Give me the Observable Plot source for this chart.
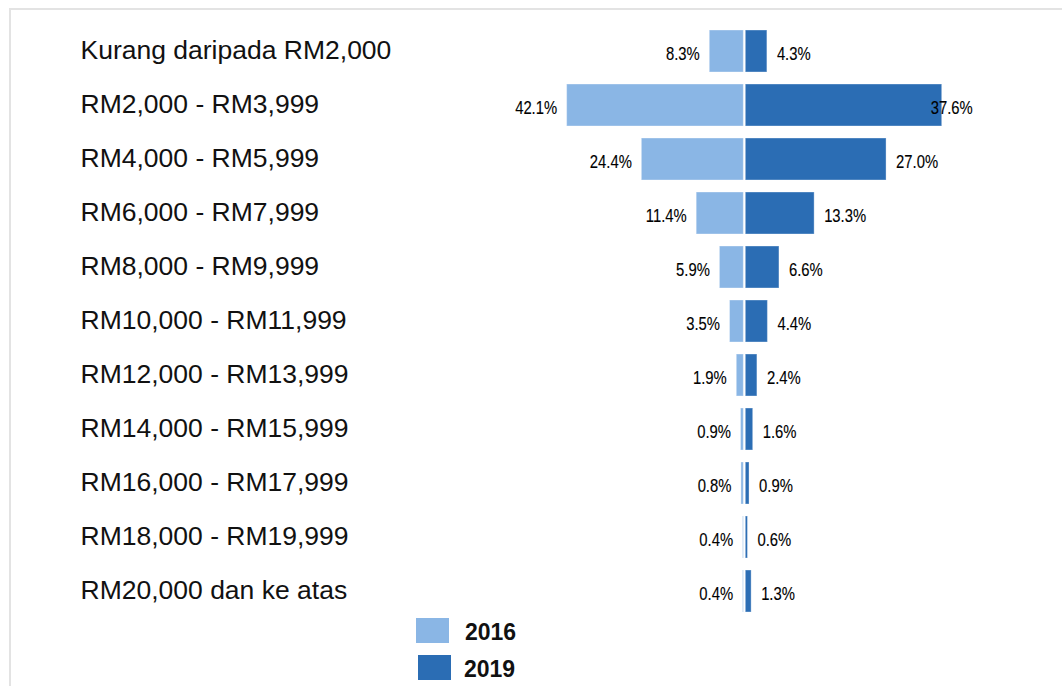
<!DOCTYPE html>
<html>
<head>
<meta charset="utf-8">
<script src="https://cdn.jsdelivr.net/npm/d3@7"></script>
<script src="https://cdn.jsdelivr.net/npm/@observablehq/plot@0.6"></script>
<style>
  html, body { margin: 0; padding: 0; background: #fff; overflow: hidden; }
  body { width: 1062px; height: 686px; position: relative; font-family: "Liberation Sans", Arial, sans-serif; }
  #frame { position: absolute; left: 9px; top: 8px; width: 1100px; height: 720px;
           border-left: 2px solid #e3e3e3; border-top: 2px solid #e3e3e3; box-sizing: border-box; }
  .layer { position: absolute; left: 0; top: 0; }
  .sw { position: absolute; width: 33px; height: 25px; }
  .lg { position: absolute; font-weight: bold; font-size: 23px; line-height: 23px; color: #111; }
</style>
</head>
<body>
<div id="frame"></div>
<div class="layer" id="left"></div>
<div class="layer" id="right"></div>
<div class="sw" id="sw0" style="left:416px; top:618px;"></div>
<div class="lg" id="lg0" style="left:465px; top:621px;"></div>
<div class="sw" id="sw1" style="left:418px; top:655px;"></div>
<div class="lg" id="lg1" style="left:464px; top:658px;"></div>
<script>
const categories = [
  "Kurang daripada RM2,000",
  "RM2,000 - RM3,999",
  "RM4,000 - RM5,999",
  "RM6,000 - RM7,999",
  "RM8,000 - RM9,999",
  "RM10,000 - RM11,999",
  "RM12,000 - RM13,999",
  "RM14,000 - RM15,999",
  "RM16,000 - RM17,999",
  "RM18,000 - RM19,999",
  "RM20,000 dan ke atas"
];
const values2016 = [8.3, 42.1, 24.4, 11.4, 5.9, 3.5, 1.9, 0.9, 0.8, 0.4, 0.4];
const values2019 = [4.3, 37.6, 27.0, 13.3, 6.6, 4.4, 2.4, 1.6, 0.9, 0.6, 1.3];
const years = ["2016", "2019"];
const colors = ["#8ab6e5", "#2b6db4"];

const data = categories.map((c, i) => ({cat: c, v16: values2016[i], v19: values2019[i]}));
const fmt = v => v.toFixed(1) + "%";
const center = 744.3;

const common = {
  width: 1062,
  height: 620,
  marginLeft: 0, marginRight: 0, marginTop: 0, marginBottom: 0,
  style: {fontFamily: "'Liberation Sans', Arial, sans-serif", background: "transparent"},
  y: {axis: null, domain: categories, range: [18, 625], padding: 0.22}
};

const valueStyle = {fontSize: 19, fill: "#000", stroke: "#000", strokeWidth: 0.15};

// 2016 side (bars grow leftwards) plus category labels
const leftChart = Plot.plot({
  ...common,
  x: {axis: null, domain: [0, 100], range: [center, center - 422]},
  marks: [
    Plot.barX(data, {y: "cat", x1: 0, x2: "v16", fill: colors[0], insetRight: 1,
      stroke: "white", strokeOpacity: 0.35}),
    Plot.text(data, {y: "cat", x: "v16", text: d => fmt(d.v16), textAnchor: "end",
      dx: -10, dy: 2, ...valueStyle}),
    Plot.text(categories, {y: d => d, text: d => d, frameAnchor: "left", textAnchor: "start",
      dx: 80, dy: -1, fontSize: 26.5, fill: "#111"})
  ]
});

// 2019 side (bars grow rightwards)
const rightChart = Plot.plot({
  ...common,
  x: {axis: null, domain: [0, 100], range: [center, center + 525]},
  marks: [
    Plot.barX(data, {y: "cat", x1: 0, x2: "v19", fill: colors[1], insetLeft: 1,
      stroke: "white", strokeOpacity: 0.35}),
    Plot.text(data, {y: "cat", x: d => Math.min(d.v19, 33.6), text: d => fmt(d.v19), textAnchor: "start",
      dx: 9.5, dy: 2, ...valueStyle})
  ]
});

document.getElementById("left").appendChild(leftChart);
document.getElementById("right").appendChild(rightChart);

// narrow look of the percentage labels
function condense(svg) {
  d3.select(svg).selectAll("text")
    .filter(function () { return this.textContent.trim().endsWith("%"); })
    .each(function () {
      const w = this.getComputedTextLength();
      this.setAttribute("textLength", (w * 0.78).toFixed(1));
      this.setAttribute("lengthAdjust", "spacingAndGlyphs");
    });
}
condense(leftChart);
condense(rightChart);

years.forEach((y, i) => {
  document.getElementById("sw" + i).style.background = colors[i];
  document.getElementById("lg" + i).textContent = y;
});
</script>
</body>
</html>
